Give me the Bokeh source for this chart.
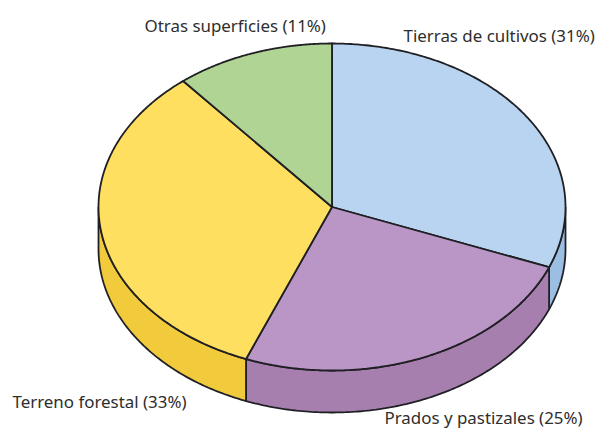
import numpy as np
from bokeh.plotting import figure
from bokeh.embed import file_html
from bokeh.resources import INLINE
from bokeh.core.properties import value

labels = ["Tierras de cultivos (31%)", "Prados y pastizales (25%)", "Terreno forestal (33%)", "Otras superficies (11%)"]
shares = [31, 25, 33, 11]
top_colors = ["#B9D4F0", "#B996C5", "#FFDF5F", "#B0D493"]
side_colors = ["#9DBEE3", "#A67FAE", "#F2CB3C", "#8FB878"]

CX, CY, RX, RY, DEPTH = 331.5, 206.5, 233.5, 163.5, 42
LINE = "#1f1f24"

p = figure(width=600, height=429, x_range=(0, 600), y_range=(429, 0),
           toolbar_location=None, output_backend="svg", min_border=0)
p.axis.visible = False
p.grid.visible = False
p.outline_line_color = None
p.background_fill_color = "white"

def pt(t):
    # t: clockwise angle from the top, radians
    return CX + RX * np.sin(t), CY - RY * np.cos(t)

edges = np.cumsum([0] + shares) / sum(shares) * 2 * np.pi

# side walls (visible front half only)
for a, b, c in zip(edges[:-1], edges[1:], side_colors):
    lo, hi = max(a, np.pi / 2), min(b, 3 * np.pi / 2)
    if hi <= lo:
        continue
    t = np.linspace(lo, hi, 120)
    x, y = pt(t)
    xs = np.concatenate([x, x[::-1]])
    ys = np.concatenate([y, y[::-1] + DEPTH])
    p.patch(xs, ys, fill_color=c, line_color=LINE, line_width=1.8)

# top slices
for a, b, c in zip(edges[:-1], edges[1:], top_colors):
    t = np.linspace(a, b, 200)
    x, y = pt(t)
    p.patch(np.concatenate([[CX], x]), np.concatenate([[CY], y]),
            fill_color=c, line_color=LINE, line_width=1.8, line_join="round")

anchors = [(403, 35), (384, 417), (12, 401), (144, 25)]
for lab, (x, y) in zip(labels, anchors):
    p.text([x], [y], text=[lab], text_font=value("Noto Sans"), text_font_size="16.9px",
           text_color="#2e2e2e", text_align="left", text_baseline="middle")

open("out.html", "w").write(file_html(p, INLINE))
